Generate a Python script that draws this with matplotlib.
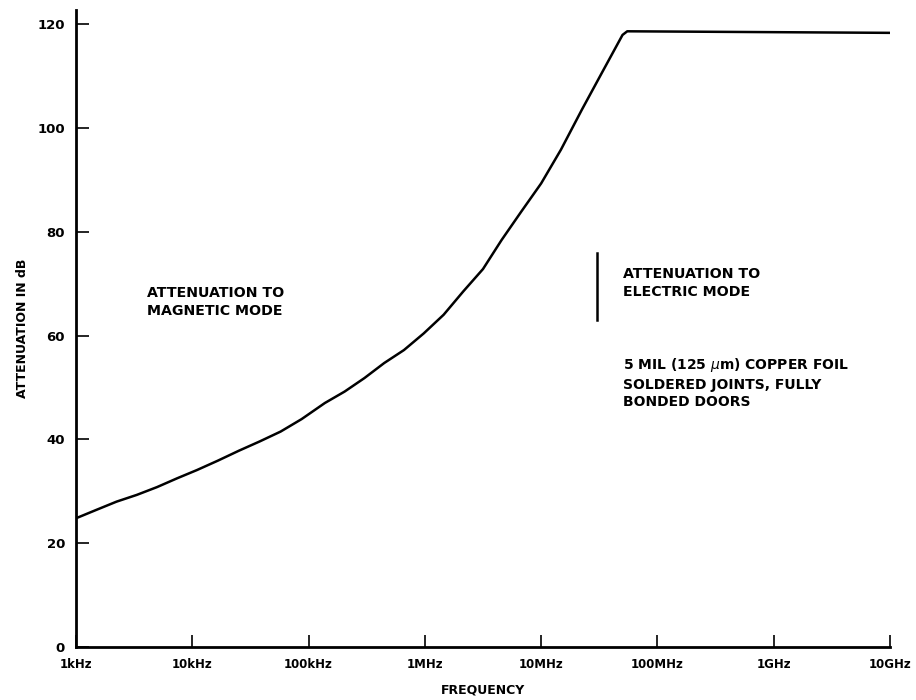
import matplotlib.pyplot as plt
from matplotlib.ticker import FixedLocator, NullLocator

# values
freq_hz = [1e3, 1.49e3, 2.23e3, 3.33e3, 4.97e3, 7.41e3, 1.10e4, 1.66e4, 2.51e4, 3.80e4,
           5.75e4, 8.71e4, 1.38e5, 2.04e5, 3.02e5, 4.47e5, 6.61e5, 9.77e5, 1.45e6, 2.14e6,
           3.16e6, 4.57e6, 6.76e6, 1.0e7, 1.48e7, 2.24e7, 3.31e7, 5.01e7, 5.5e7, 1e10]
atten_db = [24.8, 26.4, 28.0, 29.3, 30.8, 32.5, 34.1, 35.9, 37.8, 39.6,
            41.5, 43.9, 47.0, 49.2, 51.8, 54.7, 57.2, 60.4, 64.0, 68.5,
            72.8, 78.4, 83.9, 89.3, 95.8, 103.5, 110.5, 117.9, 118.6, 118.3]

x_ticks = [1e3, 1e4, 1e5, 1e6, 1e7, 1e8, 1e9, 1e10]
x_labels = ["1kHz", "10kHz", "100kHz", "1MHz", "10MHz", "100MHz", "1GHz", "10GHz"]
y_ticks = [0, 20, 40, 60, 80, 100, 120]

fig = plt.figure(figsize=(9.16, 7.0), dpi=100)
ax = fig.add_axes([0.083, 0.0757, 0.8886, 0.91])

ax.plot(freq_hz, atten_db, color="black", linewidth=1.8, solid_joinstyle="round")

ax.set_xscale("log")
ax.set_xlim(1e3, 1e10)
ax.set_ylim(0, 122.7)

ax.xaxis.set_major_locator(FixedLocator(x_ticks))
ax.xaxis.set_minor_locator(NullLocator())
ax.set_xticklabels(x_labels, fontsize=8.5, fontweight="bold")
ax.set_yticks(y_ticks)
ax.set_yticklabels([str(v) for v in y_ticks], fontsize=9.5, fontweight="bold")

ax.tick_params(axis="x", direction="in", length=9, width=1.2, pad=8)
ax.tick_params(axis="y", direction="in", length=9, width=1.2, pad=8)

for side in ["top", "right"]:
    ax.spines[side].set_visible(False)
for side in ["left", "bottom"]:
    ax.spines[side].set_linewidth(2)

ax.set_xlabel("FREQUENCY", fontsize=9, fontweight="bold", labelpad=9)
ax.set_ylabel("ATTENUATION IN dB", fontsize=9, fontweight="bold")
ax.yaxis.set_label_coords(-0.058, 0.5)

# annotations
ax.text(10**3.61, 66.5, "ATTENUATION TO\nMAGNETIC MODE", fontsize=10.2, fontweight="bold",
        va="center", ha="left", linespacing=1.35)
ax.text(10**7.7, 70.1, "ATTENUATION TO\nELECTRIC MODE", fontsize=10.2, fontweight="bold",
        va="center", ha="left", linespacing=1.35)
ax.plot([10**7.48, 10**7.48], [63.0, 75.9], color="black", linewidth=1.8)
ax.text(10**7.7, 50.9, "5 MIL (125 $\\mu$m) COPPER FOIL\nSOLDERED JOINTS, FULLY\nBONDED DOORS",
        fontsize=10, fontweight="bold", va="center", ha="left", linespacing=1.3)

fig.savefig("out.png", dpi=100)
